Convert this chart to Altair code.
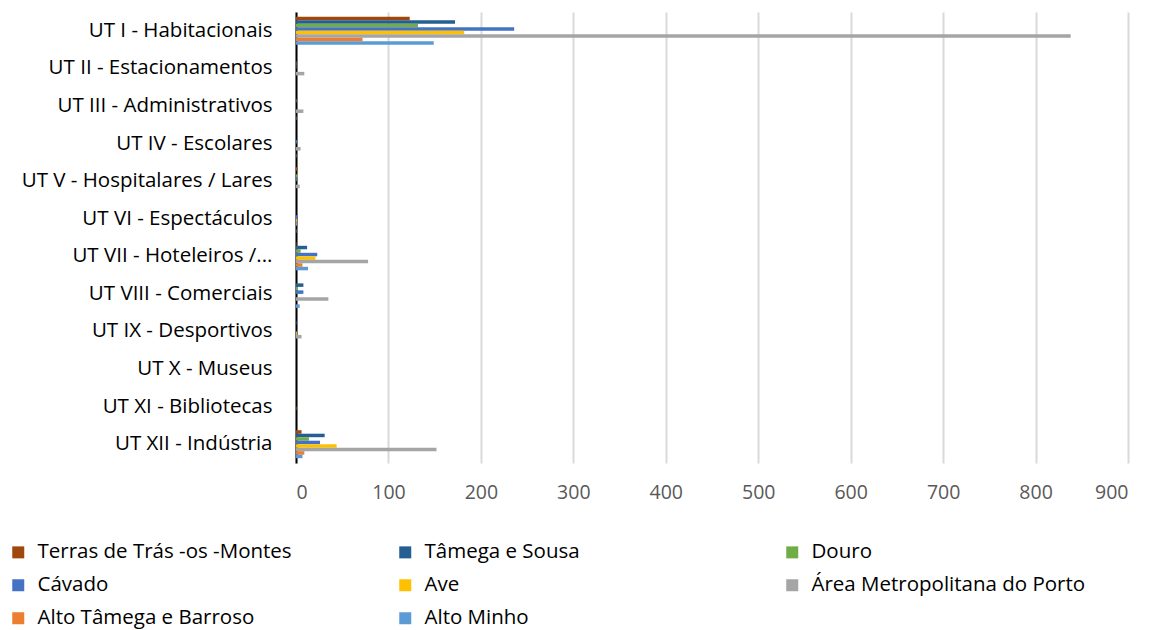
import altair as alt
import pandas as pd

categories = [
    "UT I - Habitacionais",
    "UT II - Estacionamentos",
    "UT III - Administrativos",
    "UT IV - Escolares",
    "UT V - Hospitalares / Lares",
    "UT VI - Espectáculos",
    "UT VII - Hoteleiros /...",
    "UT VIII - Comerciais",
    "UT IX - Desportivos",
    "UT X - Museus",
    "UT XI - Bibliotecas",
    "UT XII - Indústria",
]
series = [
    "Terras de Trás -os -Montes",
    "Tâmega e Sousa",
    "Douro",
    "Cávado",
    "Ave",
    "Área Metropolitana do Porto",
    "Alto Tâmega e Barroso",
    "Alto Minho",
]
colors = ["#9E480E", "#255E91", "#70AD47", "#4472C4", "#FFC000", "#A5A5A5", "#ED7D31", "#5B9BD5"]

terras = [123, 0, 0, 0, 1.5, 0, 0.5, 0, 0, 0, 0, 6]
tamega = [172, 0, 0, 0, 0, 0, 12, 8, 0.5, 0, 0, 31]
douro = [132, 0.5, 0.5, 0, 2, 0, 5, 2, 0, 0, 0, 14]
cavado = [236, 0.5, 0, 1, 1, 2, 23, 8, 0, 0, 0, 26]
ave = [182, 0, 0, 0, 0, 1, 21, 0, 1, 0, 0.3, 44]
amp = [838, 9, 8, 5, 4, 1, 78, 35, 6, 0, 0, 152]
alto_tamega = [72, 0, 0, 0, 0, 0, 7, 0, 0, 0, 0, 9]
alto_minho = [149, 0, 0.5, 0.5, 0, 0.5, 13, 4, 0, 0, 0, 7]
x_ticks = [0, 100, 200, 300, 400, 500, 600, 700, 800, 900]

all_values = [terras, tamega, douro, cavado, ave, amp, alto_tamega, alto_minho]
rows = []
for s, vals in zip(series, all_values):
    for c, v in zip(categories, vals):
        rows.append({"categoria": c, "regiao": s, "valor": v})
df = pd.DataFrame(rows)

FONT = "Open Sans"

chart = alt.Chart(df).mark_bar().encode(
    y=alt.Y(
        "categoria:N",
        sort=categories,
        scale=alt.Scale(paddingInner=0.255, paddingOuter=0.1275),
        axis=alt.Axis(
            title=None, ticks=False, domainColor="#000000", domainWidth=2,
            labelFont=FONT, labelFontSize=20.5, labelColor="#000000",
            labelPadding=24, labelLimit=400,
        ),
    ),
    yOffset=alt.YOffset("regiao:N", sort=series),
    x=alt.X(
        "valor:Q",
        scale=alt.Scale(domain=[0, 900]),
        axis=alt.Axis(
            title=None, values=x_ticks, grid=True, gridColor="#d9d9d9", gridWidth=2,
            domain=False, ticks=False, labelFont=FONT, labelFontSize=19.5,
            labelColor="#595959", labelPadding=20,
        ),
    ),
    color=alt.Color(
        "regiao:N",
        sort=series,
        scale=alt.Scale(domain=series, range=colors),
        legend=alt.Legend(
            title=None, orient="none", legendX=-288, legendY=530,
            columns=3, direction="horizontal", gridAlign="all",
            symbolType="square", symbolSize=144, symbolStrokeWidth=0,
            labelFont=FONT, labelFontSize=20.5, labelColor="#000000",
            labelOffset=9, columnPadding=83, rowPadding=12, labelLimit=400,
        ),
    ),
).properties(
    width=832,
    height=451,
    padding={"left": 288, "top": 4, "right": 20, "bottom": 167},
    autosize=alt.AutoSizeParams(type="none"),
).configure_view(stroke=None)

chart.save("out.html", embed_options={"renderer": "svg", "actions": False})
